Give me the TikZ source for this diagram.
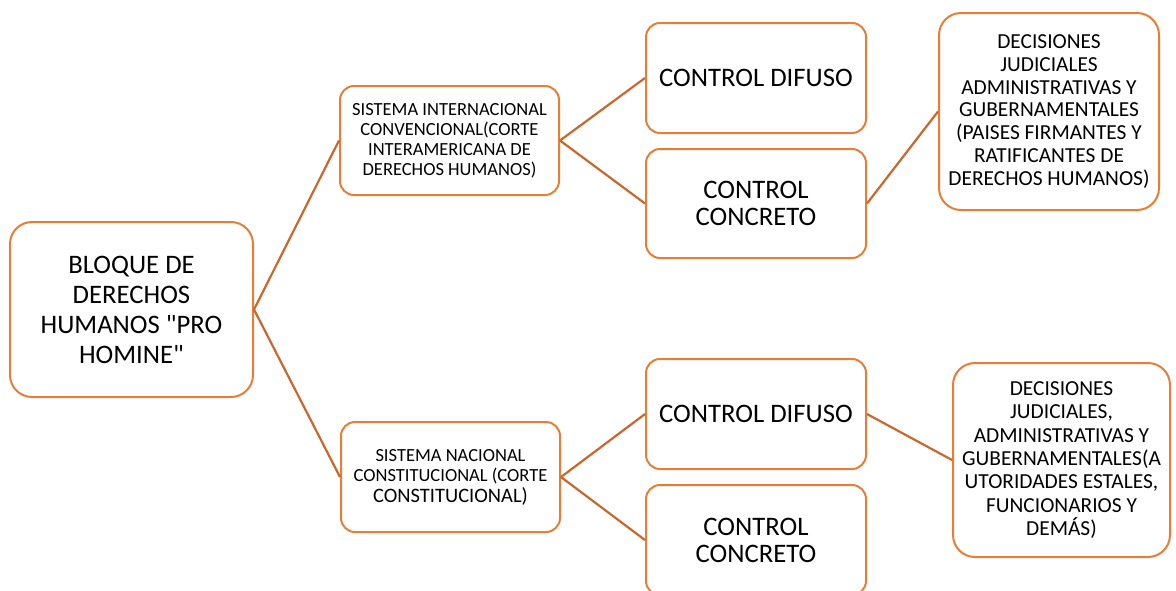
\documentclass[tikz,border=0pt]{standalone}
\usepackage{fontspec}
\setmainfont{Carlito}
\newfontfamily\qfont{Carlito}
\definecolor{boxor}{RGB}{230,126,55}
\definecolor{lineor}{RGB}{200,104,45}
\tikzset{
  box/.style={draw=boxor, line width=2pt, fill=white, rounded corners=14pt, inner sep=0pt, align=center, text=black},
  bigbox/.style={box, rounded corners=22pt},
  conn/.style={draw=lineor, line width=2.2pt},
}
\begin{document}
\begin{tikzpicture}[x=1pt,y=-1pt]
\fill[white] (0,0) rectangle (1176,590);
\clip (0,0) rectangle (1176,590);
\useasboundingbox (0,0) rectangle (1176,590);
\node[bigbox, minimum width=243pt, minimum height=175pt, font=\fontsize{26.7}{30}\selectfont] (root) at (131.5,309.5) {BLOQUE DE\\DERECHOS\\HUMANOS {\qfont"}PRO\\HOMINE{\qfont"}};
\node[box, minimum width=219pt, minimum height=109pt, font=\fontsize{18.5}{20}\selectfont] (si) at (449.5,140.5) {SISTEMA INTERNACIONAL\\CONVENCIONAL(CORTE\\INTERAMERICANA DE\\DERECHOS HUMANOS)};
\node[box, minimum width=219pt, minimum height=110pt, font=\fontsize{18.5}{20.5}\selectfont] (sn) at (450.5,477) {SISTEMA NACIONAL\\CONSTITUCIONAL (CORTE\\{\fontsize{20.5}{20.5}\selectfont CONSTITUCIONAL)}};
\node[box, minimum width=220pt, minimum height=110pt, font=\fontsize{26.7}{27}\selectfont] (cd1) at (756,78) {CONTROL DIFUSO};
\node[box, minimum width=220pt, minimum height=109pt, font=\fontsize{26.7}{27}\selectfont] (cc1) at (756,203.5) {CONTROL\\CONCRETO};
\node[box, minimum width=220pt, minimum height=110pt, font=\fontsize{26.7}{27}\selectfont] (cd2) at (756,414) {CONTROL DIFUSO};
\node[box, minimum width=220pt, minimum height=110pt, font=\fontsize{26.7}{27}\selectfont] (cc2) at (756,540) {CONTROL\\CONCRETO};
\node[bigbox, minimum width=220pt, minimum height=197pt, font=\fontsize{21.4}{22.7}\selectfont] (d1) at (1049,111.5) {DECISIONES\\JUDICIALES\\ADMINISTRATIVAS Y\\GUBERNAMENTALES\\(PAISES FIRMANTES Y\\RATIFICANTES DE\\DERECHOS HUMANOS)};
\node[bigbox, minimum width=217pt, minimum height=194pt, font=\fontsize{21.4}{23.3}\selectfont] (d2) at (1061.5,460) {DECISIONES\\JUDICIALES,\\ADMINISTRATIVAS Y\\GUBERNAMENTALES(A\\UTORIDADES ESTALES,\\FUNCIONARIOS Y\\DEMÁS)};
\draw[conn] (root.east) -- (si.west);
\draw[conn] (root.east) -- (sn.west);
\draw[conn] (si.east) -- (cd1.west);
\draw[conn] (si.east) -- (cc1.west);
\draw[conn] (sn.east) -- (cd2.west);
\draw[conn] (sn.east) -- (cc2.west);
\draw[conn] (cc1.east) -- (d1.west);
\draw[conn] (cd2.east) -- (d2.west);
\end{tikzpicture}
\end{document}
